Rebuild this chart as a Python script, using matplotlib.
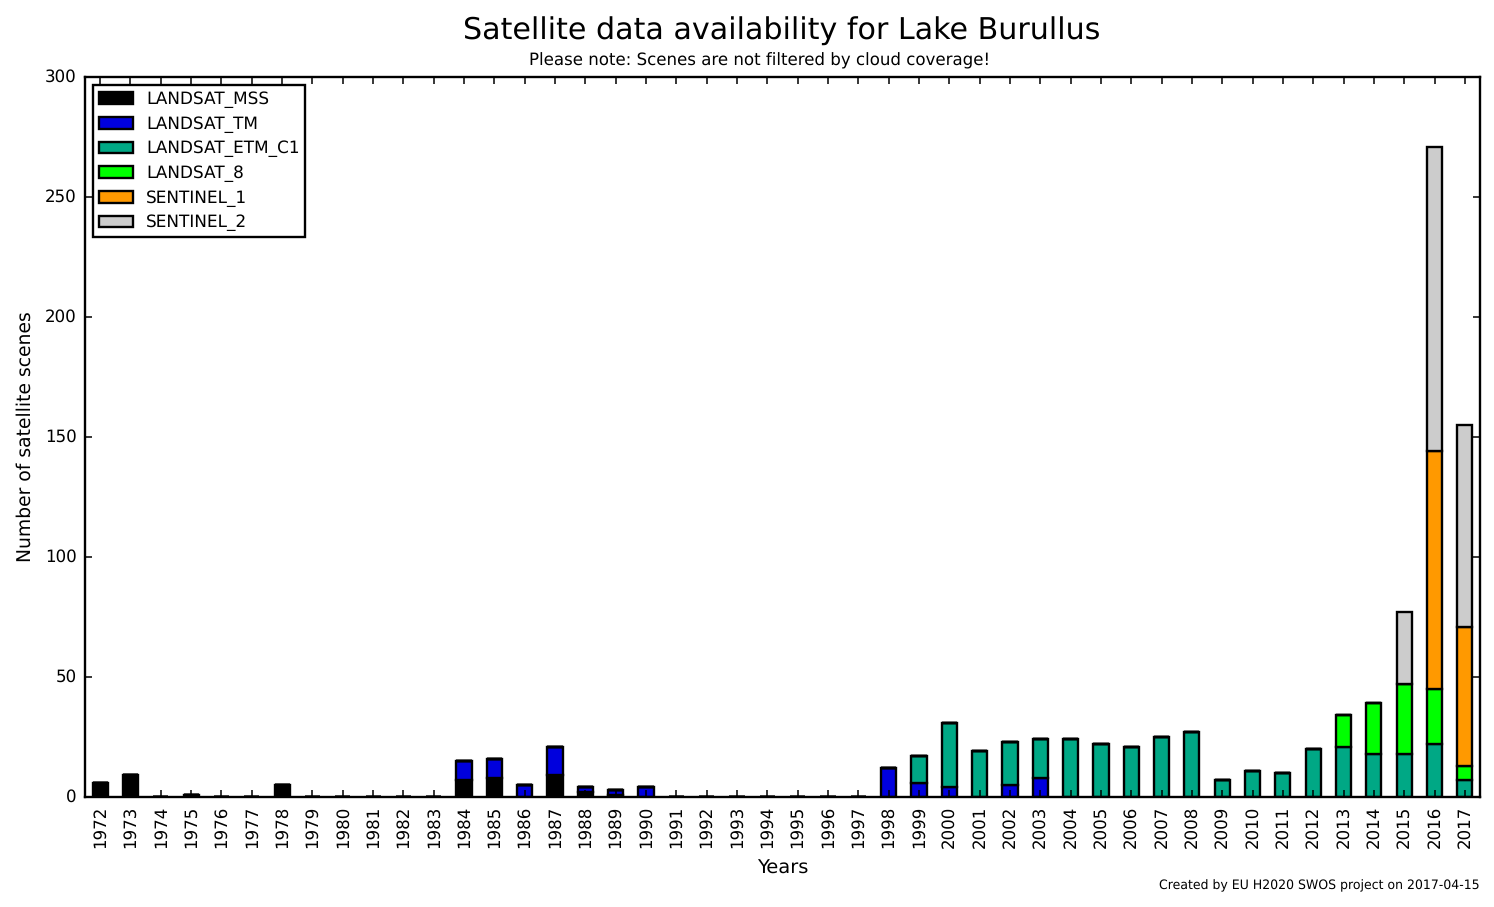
import matplotlib
matplotlib.use('Agg')
import matplotlib.pyplot as plt
import numpy as np

plt.style.use('classic')
plt.rcParams['text.hinting'] = 'no_hinting'

years = list(range(1972, 2018))

# scenes per year, 1972 to 2017
landsat_mss = [6, 9, 0, 1, 0, 0, 5, 0, 0, 0, 0, 0, 7, 8, 0, 9, 2, 1, 0, 0, 0, 0, 0, 0, 0, 0, 0,
               0, 0, 0, 0, 0, 0, 0, 0, 0, 0, 0, 0, 0, 0, 0, 0, 0, 0, 0]
landsat_tm = [0, 0, 0, 0, 0, 0, 0, 0, 0, 0, 0, 0, 8, 8, 5, 12, 2, 2, 4, 0, 0, 0, 0, 0, 0, 0, 12,
              6, 4, 0, 5, 8, 0, 0, 0, 0, 0, 0, 0, 0, 0, 0, 0, 0, 0, 0]
landsat_etm = [0, 0, 0, 0, 0, 0, 0, 0, 0, 0, 0, 0, 0, 0, 0, 0, 0, 0, 0, 0, 0, 0, 0, 0, 0, 0, 0,
               11, 27, 19, 18, 16, 24, 22, 21, 25, 27, 7, 11, 10, 20, 21, 18, 18, 22, 7]
landsat_8 = [0] * 41 + [13, 21, 29, 23, 6]
sentinel_1 = [0] * 44 + [99, 58]
sentinel_2 = [0] * 43 + [30, 127, 84]

series = [landsat_mss, landsat_tm, landsat_etm, landsat_8, sentinel_1, sentinel_2]
names = ['LANDSAT_MSS', 'LANDSAT_TM', 'LANDSAT_ETM_C1', 'LANDSAT_8', 'SENTINEL_1', 'SENTINEL_2']
colors = ['#000000', '#0000DD', '#00A885', '#00FF00', '#FF9900', '#CCCCCC']

fig = plt.figure(figsize=(14.94, 9.07), dpi=100, facecolor='white')
ax = fig.add_axes([85 / 1494, 1 - 797 / 907, 1395 / 1494, 720 / 907])

x = np.arange(len(years))
bottom = np.zeros(len(years))
for values, name, color in zip(series, names, colors):
    ax.bar(x, values, width=0.5, bottom=bottom, color=color, edgecolor='black',
           linewidth=1.7, label=name, align='center')
    bottom = bottom + np.array(values)

ax.set_xlim(-0.5, 45.5)
ax.set_ylim(0, 300)
ax.set_xticks(x)
ax.set_xticklabels(years, rotation=90, fontsize=12)
ax.tick_params(axis='y', labelsize=12, pad=6)
ax.tick_params(axis='x', pad=6.5)
ax.tick_params(width=1.1, length=5)
ax.set_axisbelow(False)
for spine in ax.spines.values():
    spine.set_linewidth(1.7)

ax.set_xlabel('Years', fontsize=14, labelpad=8)
ax.set_ylabel('Number of satellite scenes', fontsize=13.5, labelpad=7.5)

leg = ax.legend(loc='upper left', fontsize=12.15, frameon=True, fancybox=False,
                labelspacing=0.46, borderpad=0.33)
leg.get_frame().set_linewidth(1.7)

fig.text(782 / 1494, 1 - 31 / 907, 'Satellite data availability for Lake Burullus',
         fontsize=21.7, ha='center', va='center')
fig.text(760 / 1494, 1 - 61 / 907, 'Please note: Scenes are not filtered by cloud coverage!',
         fontsize=12, ha='center', va='center')
fig.text(1480 / 1494, 1 - 886 / 907, 'Created by EU H2020 SWOS project on 2017-04-15',
         fontsize=9, ha='right', va='center')

fig.savefig('out.png', dpi=100, facecolor='white')
